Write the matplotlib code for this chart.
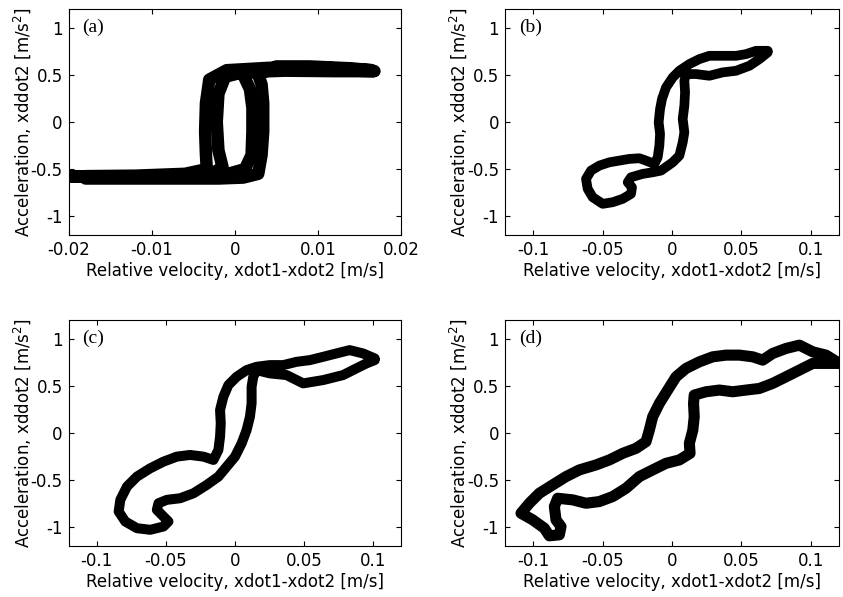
import matplotlib
matplotlib.use("Agg")
import matplotlib.pyplot as plt

plt.rcParams['font.family'] = ['DejaVu Sans']
plt.rcParams['mathtext.fontset'] = 'dejavusans'

# ---- data ----
# panel (a): two passes of the hysteresis cycle
a1_x = [-0.0198, -0.016, -0.012, -0.008, -0.004, -0.001, 0.0012, 0.0020, 0.0021, 0.0021, 0.0018, 0.0010,
        0.003, 0.007, 0.012, 0.0168, 0.012, 0.006, 0.001, -0.0012, -0.0020, -0.0022, -0.0020, -0.0015,
        -0.003, -0.008, -0.014, -0.0198]
a1_y = [-0.58, -0.585, -0.58, -0.58, -0.575, -0.555, -0.50, -0.35, -0.10, 0.15, 0.35, 0.50,
        0.555, 0.56, 0.55, 0.54, 0.54, 0.545, 0.53, 0.48, 0.30, 0.0, -0.30, -0.48,
        -0.56, -0.575, -0.58, -0.575]
a2_x = [-0.018, -0.012, -0.006, -0.002, 0.001, 0.0028, 0.0032, 0.0034, 0.0034, 0.0032, 0.0028,
        0.005, 0.009, 0.014, 0.0165, 0.010, 0.004, -0.001, -0.0031, -0.0035, -0.0036, -0.0035, -0.0034,
        -0.006, -0.012, -0.018]
a2_y = [-0.60, -0.60, -0.60, -0.60, -0.59, -0.55, -0.35, -0.10, 0.20, 0.40, 0.50,
        0.59, 0.59, 0.57, 0.55, 0.58, 0.575, 0.55, 0.45, 0.20, -0.10, -0.35, -0.50,
        -0.55, -0.57, -0.575]

b_x = [0.0689, 0.0605, 0.0533, 0.0461, 0.0365, 0.0269, 0.0197, 0.0125, 0.0053, 0.0005, -0.0043, -0.0072,
       -0.0086, -0.0096, -0.0086, -0.0091, -0.0103, -0.0127, -0.0187, -0.0235, -0.0307, -0.0379, -0.0451,
       -0.0523, -0.0583, -0.0619, -0.0607, -0.0571, -0.0499, -0.0427, -0.0355, -0.0295, -0.0288, -0.0319,
       -0.0295, -0.0211, -0.0139, -0.0079, 0.0005, 0.0053, 0.0077, 0.0089, 0.0077, 0.0089, 0.0094, 0.0089,
       0.0101, 0.0173, 0.0269, 0.0365, 0.0461, 0.0557, 0.0629, 0.0689]
b_y = [0.756, 0.756, 0.721, 0.703, 0.703, 0.703, 0.668, 0.615, 0.544, 0.473, 0.367, 0.244,
       0.138, -0.004, -0.127, -0.251, -0.375, -0.445, -0.410, -0.385, -0.392, -0.410, -0.428,
       -0.463, -0.516, -0.604, -0.710, -0.799, -0.869, -0.852, -0.816, -0.763, -0.693, -0.640,
       -0.587, -0.551, -0.534, -0.516, -0.428, -0.357, -0.216, -0.110, 0.032, 0.173, 0.314, 0.438,
       0.509, 0.509, 0.491, 0.527, 0.544, 0.597, 0.668, 0.739]

c_x = [0.101, 0.0925, 0.0829, 0.0733, 0.0637, 0.0541, 0.0445, 0.0349, 0.0252, 0.0156, 0.0084, 0.0012,
       -0.0048, -0.0084, -0.0108, -0.0103, -0.0108, -0.0120, -0.0156, -0.0228, -0.0325, -0.0421, -0.0517,
       -0.0613, -0.0709, -0.0781, -0.0829, -0.0841, -0.0793, -0.0709, -0.0613, -0.0517, -0.0481, -0.0517,
       -0.0565, -0.0553, -0.0493, -0.0397, -0.0300, -0.0204, -0.0120, -0.0060, 0.0, 0.0048, 0.0084, 0.0108,
       0.0120, 0.0120, 0.0132, 0.0156, 0.0252, 0.0373, 0.0493, 0.0637, 0.0781, 0.0877, 0.0950, 0.101]
c_y = [0.792, 0.845, 0.880, 0.845, 0.809, 0.774, 0.756, 0.721, 0.721, 0.703, 0.668, 0.597,
       0.509, 0.385, 0.244, 0.102, -0.039, -0.180, -0.286, -0.251, -0.233, -0.251, -0.304,
       -0.375, -0.463, -0.569, -0.710, -0.834, -0.940, -1.011, -1.028, -0.993, -0.940, -0.887,
       -0.816, -0.746, -0.710, -0.693, -0.640, -0.551, -0.463, -0.357, -0.251, -0.110, 0.032, 0.173,
       0.314, 0.491, 0.597, 0.668, 0.633, 0.615, 0.527, 0.562, 0.615, 0.686, 0.739, 0.774]

d_x = [0.1205, 0.1109, 0.1013, 0.0917, 0.0821, 0.0725, 0.0653, 0.0581, 0.0485, 0.0389, 0.0293, 0.0197,
       0.0101, 0.0029, -0.0031, -0.0091, -0.0139, -0.0163, -0.0187, -0.0259, -0.0355, -0.0451, -0.0547,
       -0.0667, -0.0763, -0.0859, -0.0955, -0.1027, -0.1087, -0.1003, -0.0919, -0.0883, -0.0811, -0.0799,
       -0.0835, -0.0847, -0.0823, -0.0715, -0.0619, -0.0523, -0.0427, -0.0331, -0.0235, -0.0139, -0.0043,
       0.0053, 0.0130, 0.0125, 0.0150, 0.0160, 0.0155, 0.0160, 0.0245, 0.0341, 0.0437, 0.0533, 0.0629,
       0.0725, 0.0821, 0.0917, 0.1013, 0.1109, 0.1205]
d_y = [0.739, 0.827, 0.862, 0.933, 0.898, 0.845, 0.774, 0.809, 0.827, 0.827, 0.809, 0.756,
       0.686, 0.597, 0.456, 0.314, 0.173, 0.032, -0.092, -0.163, -0.216, -0.286, -0.339,
       -0.392, -0.463, -0.551, -0.640, -0.746, -0.852, -0.922, -1.011, -1.092, -1.081, -0.993,
       -0.922, -0.781, -0.693, -0.710, -0.746, -0.728, -0.675, -0.587, -0.463, -0.392, -0.322,
       -0.286, -0.216, -0.110, 0.032, 0.173, 0.314, 0.403, 0.438, 0.456, 0.438, 0.456, 0.473,
       0.527, 0.597, 0.668, 0.739, 0.739, 0.739]

panels = [
    ("(a)", [(a1_x, a1_y), (a2_x, a2_y)], (-0.02, 0.02), [-0.02, -0.01, 0, 0.01, 0.02],
     ["-0.02", "-0.01", "0", "0.01", "0.02"], 9.0),
    ("(b)", [(b_x, b_y)], (-0.12, 0.12), [-0.1, -0.05, 0, 0.05, 0.1],
     ["-0.1", "-0.05", "0", "0.05", "0.1"], 7.0),
    ("(c)", [(c_x, c_y)], (-0.12, 0.12), [-0.1, -0.05, 0, 0.05, 0.1],
     ["-0.1", "-0.05", "0", "0.05", "0.1"], 7.2),
    ("(d)", [(d_x, d_y)], (-0.12, 0.12), [-0.1, -0.05, 0, 0.05, 0.1],
     ["-0.1", "-0.05", "0", "0.05", "0.1"], 8.0),
]
yticks = [-1, -0.5, 0, 0.5, 1]
ytick_labels = ["-1", "-0.5", "0", "0.5", "1"]

W, H = 843, 597
fig = plt.figure(figsize=(W / 100, H / 100), dpi=100)
rects = [
    (69 / W, (H - 235) / H, 332 / W, 226 / H),
    (505.3 / W, (H - 235) / H, 333.4 / W, 226 / H),
    (69 / W, (H - 546) / H, 332 / W, 226 / H),
    (505.3 / W, (H - 546) / H, 333.4 / W, 226 / H),
]

for rect, (lab, traces, xlim, xt, xtl, lw) in zip(rects, panels):
    ax = fig.add_axes(rect)
    for tx, ty in traces:
        ax.plot(tx, ty, color='black', lw=lw, solid_joinstyle='round', solid_capstyle='round')
    ax.set_xlim(*xlim)
    ax.set_ylim(-1.2, 1.2)
    ax.set_xticks(xt)
    ax.set_xticklabels(xtl)
    ax.set_yticks(yticks)
    ax.set_yticklabels(ytick_labels)
    ax.tick_params(direction='in', top=True, right=True, length=3.5, width=0.8,
                   labelsize=12)
    ax.tick_params(axis='x', pad=4.5)
    ax.tick_params(axis='y', pad=4.5)
    for s in ax.spines.values():
        s.set_linewidth(0.8)
    ax.set_xlabel("Relative velocity, xdot1-xdot2 [m/s]", fontsize=12)
    ax.set_ylabel("Acceleration, xddot2 [m/s$^2$]", fontsize=12)
    ax.xaxis.set_label_coords(0.5, -0.118)
    ax.yaxis.set_label_coords(-0.108, 0.5)
    ax.text(0.04, 1.0, lab, transform=ax.get_yaxis_transform(), va='center', ha='left',
            fontsize=14, family=['Liberation Serif', 'DejaVu Serif'])

fig.savefig("out.png", dpi=100)
